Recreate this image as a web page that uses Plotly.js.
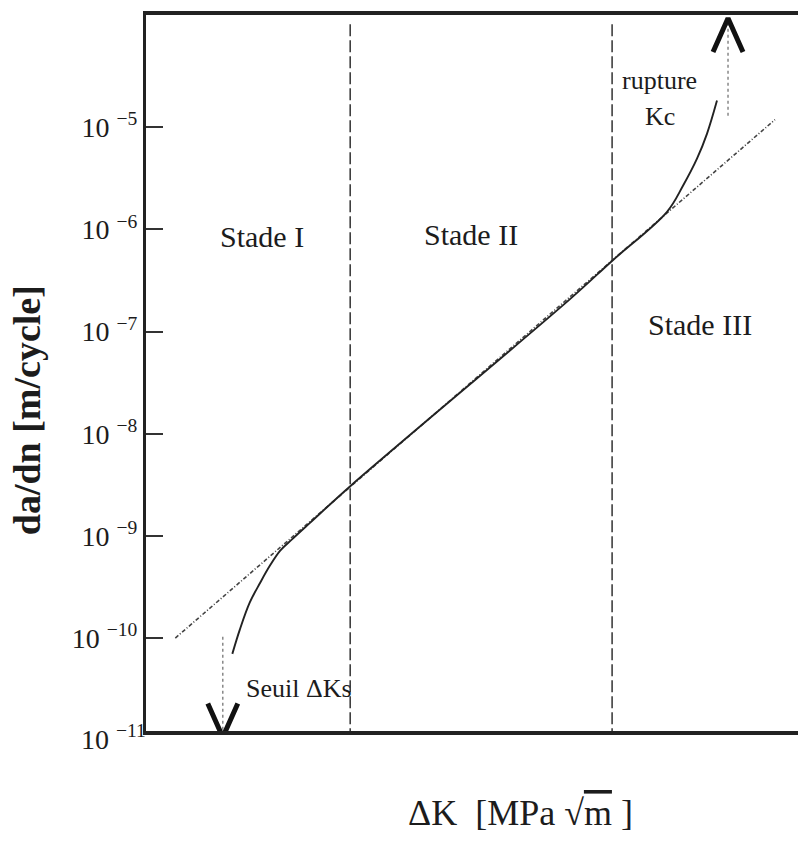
<!DOCTYPE html>
<html><head><meta charset="utf-8">
<script src="https://cdn.plot.ly/plotly-3.0.1.min.js"></script>
<style>html,body{margin:0;padding:0;background:#fff}#chart{width:798px;height:843px}</style>
</head><body><div id="chart"></div>
<script>
// ΔK in MPa·√m (log axis), da/dn in m/cycle (log axis)
const curveK    = [1.84, 1.94, 2.08, 2.24, 2.40, 2.58, 2.81, 3.19, 4.29, 19.98, 26.88, 39.65, 44.38, 48.99, 52.60, 56.43];
const curveRate = [7.0e-11, 1.21e-10, 2.22e-10, 3.48e-10, 5.12e-10, 7.18e-10, 9.31e-10, 1.35e-9, 3.19e-9, 2.08e-7, 4.92e-7, 1.49e-6, 2.68e-6, 4.93e-6, 8.69e-6, 1.83e-5];
const parisK    = [1.23, 85.0];
const parisRate = [1.0e-10, 1.19e-5];
const stageBoundK    = [4.23, 26.9];
const stageBoundRate = [1e-11, 1.04e-4];
const seuilK    = 1.72;
const seuilRate = [1.03e-10, 1.07e-11];   // shaft start, arrow tip
const ruptureK    = 61.0;
const ruptureRate = [1.30e-5, 1.17e-4];   // shaft start, arrow tip
const yTickVals = [1e-5, 1e-6, 1e-7, 1e-8, 1e-9, 1e-10];
const yTickText = ['10 <sup>−5</sup>', '10 <sup>−6</sup>', '10 <sup>−7</sup>', '10 <sup>−8</sup>', '10 <sup>−9</sup>', '10 <sup>−10</sup>'];
const bottomTickText = '10 <sup>−11</sup>';
const stageLabels = ['Stade I', 'Stade II', 'Stade III'];
const xTitle = 'ΔK  [MPa √<span style="text-decoration:overline">m</span> ]';
const yTitle = '<b>da/dn [m/cycle]</b>';

const FONT = '"Liberation Serif", "Times New Roman", serif';
const INK = '#1c1c1c';
// chevron arrowhead geometry (in log decades)
const HEAD_DX = 0.046, HEAD_DY = 0.33;

function chevron(K, tip, dir) { // dir: +1 pointing up, -1 pointing down
  const back = tip * Math.pow(10, -dir * HEAD_DY);
  return {x: [K * Math.pow(10, -HEAD_DX), K, K * Math.pow(10, HEAD_DX)], y: [back, tip, back],
          mode: 'lines', line: {color: '#111', width: 5}, hoverinfo: 'skip'};
}

const traces = [
  {x: parisK, y: parisRate, mode: 'lines', line: {color: '#444', width: 1.6, dash: '4px,2px,1px,2px'}, hoverinfo: 'skip'},
  {x: curveK, y: curveRate, mode: 'lines', line: {color: '#222', width: 1.9, shape: 'spline', smoothing: 1}, hoverinfo: 'skip'},
  {x: [stageBoundK[0], stageBoundK[0]], y: stageBoundRate, mode: 'lines', line: {color: '#333', width: 1.5, dash: '12px,4px'}, hoverinfo: 'skip'},
  {x: [stageBoundK[1], stageBoundK[1]], y: stageBoundRate, mode: 'lines', line: {color: '#333', width: 1.5, dash: '12px,4px'}, hoverinfo: 'skip'},
  {x: [seuilK, seuilK], y: seuilRate, mode: 'lines', line: {color: '#888', width: 1.5, dash: 'dot'}, hoverinfo: 'skip'},
  {x: [ruptureK, ruptureK], y: ruptureRate, mode: 'lines', line: {color: '#888', width: 1.5, dash: 'dot'}, hoverinfo: 'skip'},
  chevron(seuilK, seuilRate[1], -1),
  chevron(ruptureK, ruptureRate[1], 1)
];

function txt(text, x, y, size, extra) {
  return Object.assign({text: text, xref: 'paper', yref: 'paper', x: x, y: y, showarrow: false,
    xanchor: 'center', yanchor: 'middle', font: {family: FONT, size: size, color: INK}}, extra || {});
}
const annotations = [
  txt(stageLabels[0], 0.178, 0.690, 30),
  txt(stageLabels[1], 0.4985, 0.693, 30),
  txt(stageLabels[2], 0.850, 0.568, 30),
  txt('rupture', 0.788, 0.909, 26),
  txt('Kc', 0.788, 0.858, 26),
  txt('Seuil ΔKs', 0.2347, 0.0587, 26),
  txt(xTitle, 0.575, -0.1145, 36),
  txt(yTitle, -0.1825, 0.448, 38, {textangle: -90}),
  txt(bottomTickText, 0, -0.009, 28, {xanchor: 'right', xshift: 2})
];

const layout = {
  width: 798, height: 843,
  margin: {l: 146, r: 0, t: 15, b: 112},
  paper_bgcolor: '#fff', plot_bgcolor: '#fff',
  showlegend: false,
  xaxis: {type: 'log', range: [0, 2], showgrid: false, zeroline: false, showticklabels: false, ticks: '',
          showline: true, mirror: true, linewidth: 4, linecolor: '#222', fixedrange: true},
  yaxis: {type: 'log', range: [-10.91, -3.90], showgrid: false, zeroline: false,
          tickmode: 'array', tickvals: yTickVals, ticktext: yTickText,
          ticks: 'inside', ticklen: 17, tickwidth: 2, tickcolor: '#333', ticklabelstandoff: 0,
          tickfont: {family: FONT, size: 28, color: INK},
          showline: true, mirror: false, linewidth: 3, linecolor: '#222', fixedrange: true},
  annotations: annotations
};

Plotly.newPlot('chart', traces, layout, {displayModeBar: false, staticPlot: true});
</script>
</body></html>
